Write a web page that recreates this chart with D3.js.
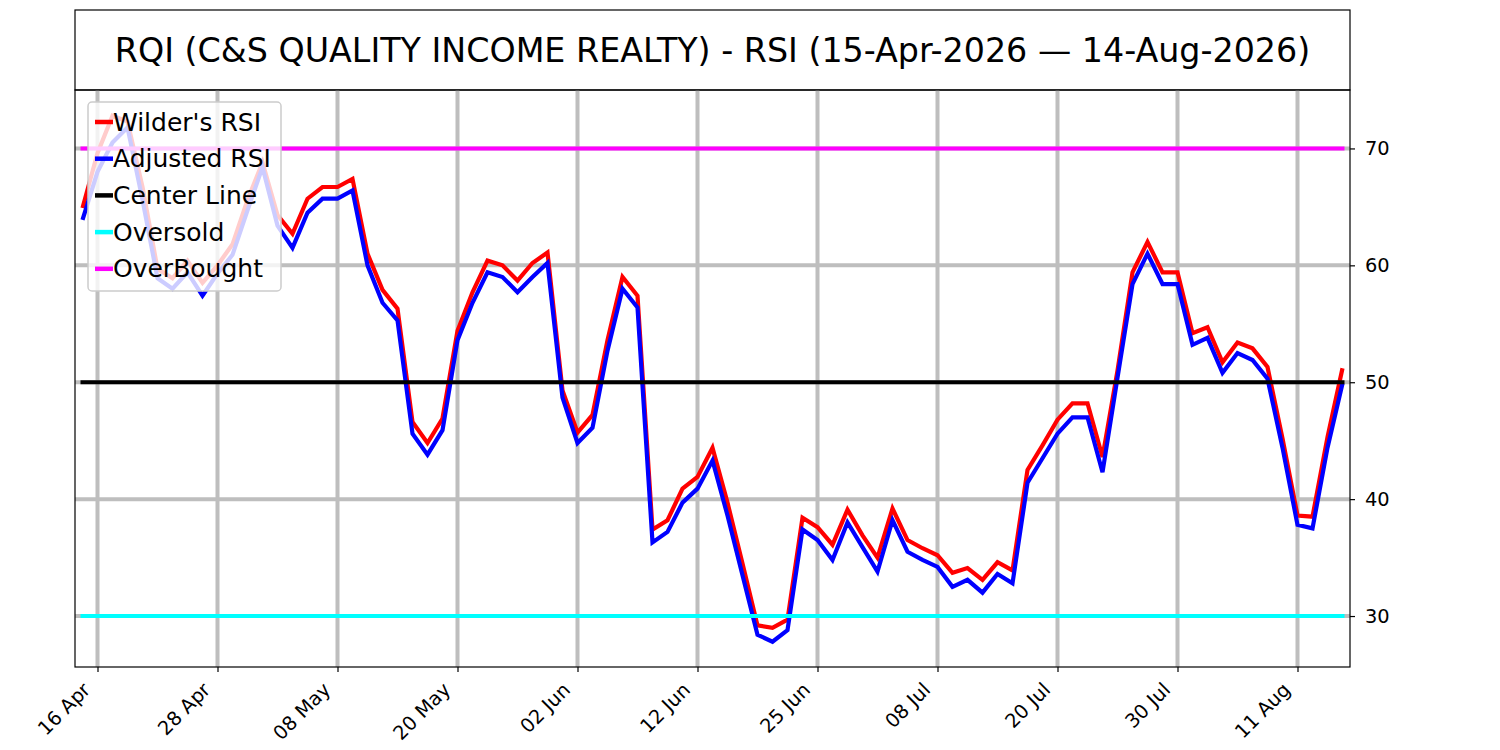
<!DOCTYPE html>
<html lang="en">
<head>
    <meta charset="UTF-8">
    <title>RQI RSI</title>
    <script src="https://cdn.jsdelivr.net/npm/d3@7"></script>
    <style>
        body { margin: 0; background: #fff; }
        svg { font-family: "DejaVu Sans", sans-serif; }
    </style>
</head>
<body>
    <div id="chart"></div>
    <script>
// trading days, 15-Apr-2026 to 14-Aug-2026
const dates = [
    "15 Apr","16 Apr","17 Apr","20 Apr","21 Apr","22 Apr","23 Apr","24 Apr","27 Apr","28 Apr","29 Apr","30 Apr",
    "01 May","04 May","05 May","06 May","07 May","08 May","11 May","12 May","13 May","14 May","15 May","18 May",
    "19 May","20 May","21 May","22 May","26 May","27 May","28 May","29 May",
    "01 Jun","02 Jun","03 Jun","04 Jun","05 Jun","08 Jun","09 Jun","10 Jun","11 Jun","12 Jun","15 Jun","16 Jun",
    "17 Jun","18 Jun","22 Jun","23 Jun","24 Jun","25 Jun","26 Jun","29 Jun","30 Jun",
    "01 Jul","02 Jul","06 Jul","07 Jul","08 Jul","09 Jul","10 Jul","13 Jul","14 Jul","15 Jul","16 Jul","17 Jul",
    "20 Jul","21 Jul","22 Jul","23 Jul","24 Jul","27 Jul","28 Jul","29 Jul","30 Jul","31 Jul",
    "03 Aug","04 Aug","05 Aug","06 Aug","07 Aug","10 Aug","11 Aug","12 Aug","13 Aug","14 Aug"
];

const wilderRsi = [
    64.9, 69.6, 72.8, 72.3, 66.7, 59.7, 58.9, 60.4, 58.5, 60.0,
    61.8, 65.6, 68.8, 64.3, 62.7, 65.7, 66.7, 66.7, 67.4, 61.0,
    57.9, 56.3, 46.6, 44.8, 46.9, 54.4, 57.7, 60.4, 60.0, 58.7,
    60.2, 61.1, 49.3, 45.7, 47.2, 53.6, 59.0, 57.4, 37.4, 38.2,
    40.9, 41.9, 44.4, 39.7, 34.5, 29.2, 29.0, 29.7, 38.4, 37.6,
    36.1, 39.1, 36.9, 35.0, 39.2, 36.5, 35.8, 35.2, 33.7, 34.1,
    33.1, 34.6, 33.9, 42.5, 44.6, 46.8, 48.2, 48.2, 43.6, 51.0,
    59.4, 62.0, 59.4, 59.4, 54.2, 54.7, 51.7, 53.4, 52.9, 51.3,
    45.2, 38.6, 38.5, 45.3, 51.2
];

const adjustedRsi = [
    63.9, 68.0, 70.5, 71.8, 65.6, 58.9, 58.0, 59.4, 57.4, 59.3,
    60.9, 64.7, 68.4, 63.4, 61.5, 64.5, 65.7, 65.7, 66.4, 60.0,
    56.8, 55.3, 45.6, 43.8, 45.9, 53.6, 56.8, 59.4, 59.0, 57.7,
    59.0, 60.2, 48.7, 44.8, 46.1, 52.7, 58.0, 56.4, 36.3, 37.2,
    39.7, 40.9, 43.3, 38.6, 33.5, 28.4, 27.8, 28.8, 37.4, 36.5,
    34.8, 38.0, 35.9, 33.8, 38.2, 35.5, 34.8, 34.2, 32.5, 33.1,
    32.0, 33.6, 32.8, 41.4, 43.5, 45.6, 47.0, 47.0, 42.3, 50.4,
    58.4, 61.0, 58.4, 58.4, 53.2, 53.8, 50.8, 52.5, 51.9, 50.3,
    44.4, 37.8, 37.5, 44.4, 49.9
];

const tickDates = ["16 Apr","28 Apr","08 May","20 May","02 Jun","12 Jun","25 Jun","08 Jul","20 Jul","30 Jul","11 Aug"];
const yTicks = [30, 40, 50, 60, 70];
const levels = [
    { name: "Center Line", value: 50, color: "#000000" },
    { name: "Oversold", value: 30, color: "#00ffff" },
    { name: "OverBought", value: 70, color: "#ff00ff" }
];
const titleText = "RQI (C&S QUALITY INCOME REALTY) - RSI (15-Apr-2026 \u2014 14-Aug-2026)";

const width = 1500, height = 750;
const margin = { top: 90, right: 150, bottom: 83, left: 75 };

const svg = d3.select("#chart").append("svg")
    .attr("width", width)
    .attr("height", height);

const x = d3.scaleLinear()
    .domain([-0.5, dates.length - 0.5])
    .range([margin.left, width - margin.right]);
const y = d3.scaleLinear()
    .domain([25.64, 75])
    .range([height - margin.bottom, margin.top]);

// title box
svg.append("rect")
    .attr("x", margin.left).attr("y", 10)
    .attr("width", width - margin.right - margin.left).attr("height", margin.top - 10)
    .attr("fill", "none").attr("stroke", "#000").attr("stroke-width", 1.2);
svg.append("text")
    .attr("x", (margin.left + width - margin.right) / 2)
    .attr("y", 50)
    .attr("text-anchor", "middle")
    .attr("dominant-baseline", "central")
    .style("font-size", "33.3px")
    .text(titleText);

const plot = svg.append("g");
plot.append("clipPath").attr("id", "clip")
    .append("rect")
    .attr("x", margin.left).attr("y", margin.top)
    .attr("width", width - margin.right - margin.left)
    .attr("height", height - margin.bottom - margin.top);
const inner = plot.append("g").attr("clip-path", "url(#clip)");

// grid
inner.selectAll(".vgrid").data(tickDates).enter().append("line")
    .attr("x1", d => x(dates.indexOf(d))).attr("x2", d => x(dates.indexOf(d)))
    .attr("y1", margin.top).attr("y2", height - margin.bottom)
    .attr("stroke", "#bebebe").attr("stroke-width", 4);
inner.selectAll(".hgrid").data(yTicks).enter().append("line")
    .attr("x1", margin.left).attr("x2", width - margin.right)
    .attr("y1", d => y(d)).attr("y2", d => y(d))
    .attr("stroke", "#bebebe").attr("stroke-width", 4);

// RSI lines
const line = d3.line().x((d, i) => x(i)).y(d => y(d));
inner.append("path").datum(wilderRsi)
    .attr("d", line).attr("fill", "none")
    .attr("stroke", "#ff0000").attr("stroke-width", 4.2).attr("stroke-linejoin", "miter");
inner.append("path").datum(adjustedRsi)
    .attr("d", line).attr("fill", "none")
    .attr("stroke", "#0000ff").attr("stroke-width", 4.2).attr("stroke-linejoin", "miter");

// level lines
inner.selectAll(".level").data(levels).enter().append("line")
    .attr("x1", x(0)).attr("x2", x(dates.length - 1))
    .attr("y1", d => y(d.value)).attr("y2", d => y(d.value))
    .attr("stroke", d => d.color).attr("stroke-width", 4)
    .attr("stroke-linecap", "square");

// axes
const xAxis = d3.axisBottom(x)
    .tickValues(tickDates.map(d => dates.indexOf(d)))
    .tickFormat(i => dates[i])
    .tickSize(5).tickSizeOuter(0);
const gx = svg.append("g")
    .attr("transform", `translate(0,${height - margin.bottom})`)
    .call(xAxis);
gx.select(".domain").remove();
gx.selectAll(".tick line").attr("stroke", "#000").attr("stroke-width", 1.2);
gx.selectAll(".tick text")
    .style("font-size", "19.4px")
    .style("font-family", "DejaVu Sans")
    .attr("text-anchor", "end")
    .attr("x", 0).attr("y", 0)
    .attr("dy", null)
    .attr("transform", "translate(-6.5,24) rotate(-45)");

const yAxis = d3.axisRight(y).tickValues(yTicks).tickSize(5).tickPadding(10);
const gy = svg.append("g")
    .attr("transform", `translate(${width - margin.right},0)`)
    .call(yAxis);
gy.select(".domain").remove();
gy.selectAll(".tick line").attr("stroke", "#000").attr("stroke-width", 1.2);
gy.selectAll(".tick text").style("font-size", "19.4px").style("font-family", "DejaVu Sans");

// frame
svg.append("rect")
    .attr("x", margin.left).attr("y", margin.top)
    .attr("width", width - margin.right - margin.left)
    .attr("height", height - margin.bottom - margin.top)
    .attr("fill", "none").attr("stroke", "#000").attr("stroke-width", 1.2);

// legend
const legendItems = [
    { name: "Wilder's RSI", color: "#ff0000" },
    { name: "Adjusted RSI", color: "#0000ff" }
].concat(levels);
const legend = svg.append("g").attr("transform", "translate(88,102)");
legend.append("rect")
    .attr("width", 193).attr("height", 189).attr("rx", 4)
    .attr("fill", "#fff").attr("fill-opacity", 0.8)
    .attr("stroke", "#cccccc").attr("stroke-width", 1.5);
const rows = legend.selectAll(".row").data(legendItems).enter().append("g")
    .attr("transform", (d, i) => `translate(0,${20 + i * 36.7})`);
rows.append("line")
    .attr("x1", 7).attr("x2", 25)
    .attr("stroke", d => d.color).attr("stroke-width", 4.5);
rows.append("text")
    .attr("x", 25)
    .attr("dominant-baseline", "central")
    .style("font-size", "25px")
    .text(d => d.name);
    </script>
</body>
</html>
